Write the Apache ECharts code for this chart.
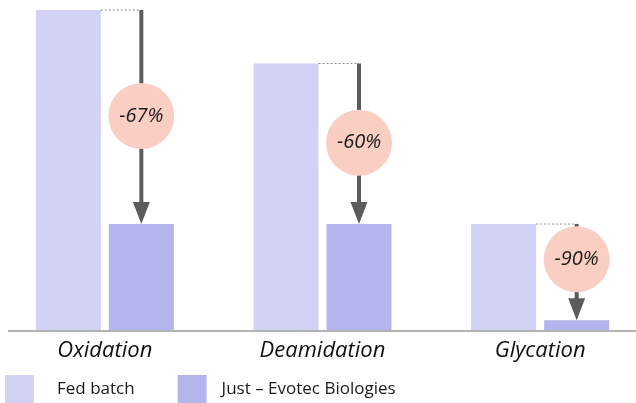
<!DOCTYPE html>
<html>
<head>
<meta charset="utf-8">
<script src="https://cdn.jsdelivr.net/npm/echarts@6/dist/echarts.min.js"></script>
<style>
  html, body { margin: 0; padding: 0; background: #fff; }
  #chart { width: 636px; height: 403px; }
</style>
</head>
<body>
<div id="chart"></div>
<script>
// Relative impurity levels per modification type
const categories = ['Oxidation', 'Deamidation', 'Glycation'];
const fedBatch = [3, 2.5, 1];
const justEvotec = [1, 1, 0.1];
const seriesNames = ['Fed batch', 'Just \u2013 Evotec Biologies'];

const FONT = '"Open Sans", Lato, sans-serif';
const BAR_W = 65;
const BAR_GAP = 8;
const COLORS = ['#d2d2f4', '#b5b5ee'];

const changeData = categories.map((c, i) => [i, fedBatch[i], justEvotec[i]]);

function pctLabel(from, to) {
  return '-' + Math.round((1 - to / from) * 100) + '%';
}

function renderArrow(params, api) {
  const i = api.value(0);
  const from = api.value(1);
  const to = api.value(2);
  const pFrom = api.coord([i, from]);
  const pTo = api.coord([i, to]);
  const cx = pFrom[0];
  const ax = cx + BAR_GAP / 2 + BAR_W / 2;
  const fedRight = cx - BAR_GAP / 2;
  const yTop = pFrom[1];
  const yEnd = pTo[1];
  const headH = 22, headW = 17, r = 33;
  const headTop = yEnd - headH;
  let cy = (yTop + yEnd) / 2 - 1;
  cy = Math.min(cy, headTop - r - 6);
  return {
    type: 'group',
    children: [
      { type: 'line', shape: { x1: fedRight, y1: yTop, x2: ax, y2: yTop },
        style: { stroke: '#8a8a8a', lineWidth: 1.2, lineDash: [2, 2] } },
      { type: 'line', shape: { x1: ax, y1: yTop, x2: ax, y2: headTop + 2 },
        style: { stroke: '#5b5b5b', lineWidth: 4 } },
      { type: 'polygon', shape: { points: [[ax - headW / 2, headTop], [ax + headW / 2, headTop], [ax, yEnd]] },
        style: { fill: '#5b5b5b' } },
      { type: 'circle', shape: { cx: ax, cy: cy, r: r },
        style: { fill: '#f8cfc2' } },
      { type: 'text', x: ax, y: cy,
        style: { text: pctLabel(from, to), fill: '#1a1a1a', font: 'italic 20px ' + FONT,
                 align: 'center', verticalAlign: 'middle' } }
    ]
  };
}

const chart = echarts.init(document.getElementById('chart'), null, { renderer: 'canvas' });

chart.setOption({
  animation: false,
  backgroundColor: '#ffffff',
  grid: { left: -4, right: -13, top: 10, bottom: 72, outerBoundsMode: 'none', containLabel: false },
  legend: {
    data: [
      { name: seriesNames[0], textStyle: { padding: [0, 0, 0, 18] } },
      { name: seriesNames[1], textStyle: { padding: [0, 0, 0, 10] } }
    ],
    left: 5, top: 375, padding: 0,
    itemWidth: 29, itemHeight: 28, itemGap: 43,
    icon: 'rect',
    textStyle: { fontFamily: FONT, fontSize: 17, color: '#1a1a1a' }
  },
  xAxis: {
    type: 'category',
    data: categories,
    axisLine: { show: false },
    axisTick: { show: false },
    axisLabel: { fontFamily: FONT, fontStyle: 'italic', fontSize: 22, color: '#111', margin: 9 }
  },
  yAxis: { type: 'value', min: 0, max: 3, show: false, splitLine: { show: false } },
  series: [
    { name: seriesNames[0], type: 'bar', data: fedBatch, barWidth: BAR_W,
      barGap: (BAR_GAP / BAR_W * 100) + '%', itemStyle: { color: COLORS[0] } },
    { name: seriesNames[1], type: 'bar', data: justEvotec, barWidth: BAR_W,
      itemStyle: { color: COLORS[1] } },
    { type: 'custom', data: changeData, renderItem: renderArrow, clip: false, z: 5,
      encode: { x: 0, y: [1, 2] } }
  ]
});

// Baseline under the bars
const baseY = chart.convertToPixel({ yAxisIndex: 0 }, 0);
chart.setOption({
  graphic: [{
    type: 'line', z: 10,
    shape: { x1: 8, y1: baseY, x2: 636, y2: baseY },
    style: { stroke: '#b3b3b3', lineWidth: 2 }
  }]
});
</script>
</body>
</html>
